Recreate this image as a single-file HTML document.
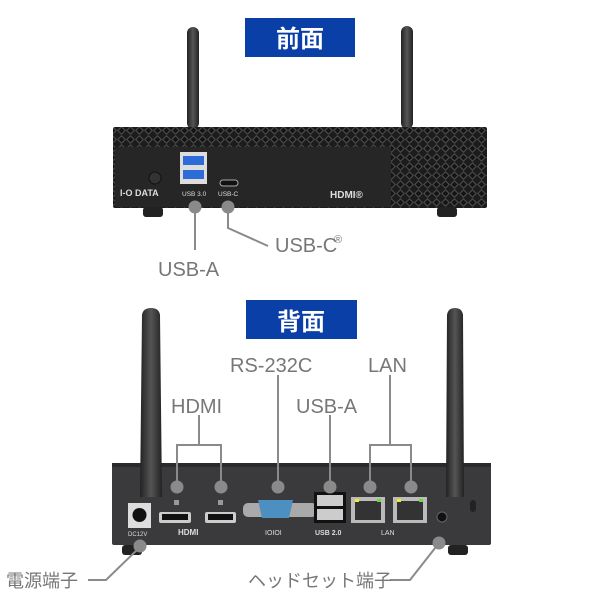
<!DOCTYPE html>
<html><head><meta charset="utf-8"><style>
html,body{margin:0;padding:0;background:#fff;}
svg{display:block;}
.t{font-family:"Liberation Sans","Noto Sans CJK JP",sans-serif;fill:#777;}
</style></head><body>
<svg width="600" height="600" viewBox="0 0 600 600" xmlns="http://www.w3.org/2000/svg">
<defs>
<pattern id="vent" width="9" height="9" patternUnits="userSpaceOnUse">
<rect width="9" height="9" fill="#1c1c1c"/>
<path d="M0 4.5 L4.5 0 L9 4.5 L4.5 9 Z" fill="#4a4a4a"/>
<path d="M1.6 4.5 L4.5 1.6 L7.4 4.5 L4.5 7.4 Z" fill="#141414"/>
</pattern>
<linearGradient id="ant" x1="0" x2="1"><stop offset="0" stop-color="#222"/><stop offset="0.5" stop-color="#555"/><stop offset="1" stop-color="#222"/></linearGradient>
</defs>

<!-- FRONT -->
<rect x="245" y="18" width="110" height="39" fill="#0a3fa8"/>
<text x="300" y="47" text-anchor="middle" font-family="Liberation Sans,Noto Sans CJK JP,sans-serif" font-size="24" font-weight="bold" fill="#fff">前面</text>
<rect x="187" y="27" width="12" height="102" rx="6" fill="url(#ant)"/>
<rect x="401" y="26" width="12" height="103" rx="6" fill="url(#ant)"/>
<rect x="113" y="127" width="374" height="81" rx="2" fill="url(#vent)"/>
<rect x="115" y="147" width="276" height="60" fill="#262626"/>
<rect x="143" y="207" width="20" height="10" rx="3" fill="#222"/>
<rect x="437" y="207" width="20" height="10" rx="3" fill="#222"/>
<circle cx="155" cy="178" r="6" fill="#333" stroke="#111"/>
<rect x="180" y="152" width="27" height="32" fill="#ddd"/>
<rect x="183" y="156" width="21" height="9" fill="#2d6bd8"/>
<rect x="183" y="170" width="21" height="9" fill="#2d6bd8"/>
<rect x="220" y="180" width="18" height="6" rx="3" fill="#111" stroke="#aaa"/>
<text x="120" y="196" font-family="Liberation Sans,sans-serif" font-size="9" font-weight="bold" fill="#ddd">I-O DATA</text>
<text x="182" y="196" font-family="Liberation Sans,sans-serif" font-size="6.5" fill="#ddd">USB 3.0</text>
<text x="218" y="196" font-family="Liberation Sans,sans-serif" font-size="6.5" fill="#ddd">USB-C</text>
<text x="330" y="198" font-family="Liberation Sans,sans-serif" font-size="10" font-weight="bold" fill="#ddd">HDMI®</text>
<g stroke="#8a8a8a" stroke-width="2" fill="none">
<path d="M195 207 V250"/>
<path d="M228 207 V228 L268 246"/>
</g>
<circle cx="195" cy="207" r="6.5" fill="#8a8a8a"/>
<circle cx="228" cy="207" r="6.5" fill="#8a8a8a"/>
<text class="t" x="158" y="276" font-size="20">USB-A</text>
<text class="t" x="275" y="252" font-size="20">USB-C</text>
<text class="t" x="334" y="243" font-size="11">®</text>

<!-- BACK -->
<rect x="246" y="300" width="111" height="39" fill="#0a3fa8"/>
<text x="301" y="330" text-anchor="middle" font-family="Liberation Sans,Noto Sans CJK JP,sans-serif" font-size="24" font-weight="bold" fill="#fff">背面</text>
<rect x="112" y="463" width="379" height="82" rx="2" fill="#3a3a3c"/>
<rect x="112" y="463" width="379" height="4" fill="#2a2a2a"/>
<path d="M142 315 Q143 308 151 308 Q159 308 160 315 L162 497 L140 497 Z" fill="url(#ant)"/>
<path d="M447 315 Q448 308 455 308 Q462 308 463 315 L464 497 L446 497 Z" fill="url(#ant)"/>
<rect x="122" y="545" width="20" height="10" rx="3" fill="#222"/>
<rect x="448" y="545" width="20" height="10" rx="3" fill="#222"/>
<!-- ports -->
<rect x="128" y="503" width="23" height="25" fill="#ddd"/><circle cx="139.5" cy="515" r="7" fill="#111"/>
<text x="128" y="536" font-family="Liberation Sans,sans-serif" font-size="6" fill="#ddd">DC12V</text>
<rect x="159" y="512" width="32" height="11" rx="2" fill="#ccc"/><rect x="162" y="514" width="26" height="6" fill="#111"/>
<rect x="205" y="512" width="31" height="11" rx="2" fill="#ccc"/><rect x="208" y="514" width="25" height="6" fill="#111"/>
<rect x="174" y="500" width="5" height="5" fill="#999"/><rect x="218" y="500" width="5" height="5" fill="#999"/>
<text x="178" y="535" font-family="Liberation Sans,sans-serif" font-size="8" font-weight="bold" fill="#ddd">HDMI</text>
<rect x="243" y="503" width="74" height="14" rx="5" fill="#aaa"/>
<path d="M258 500 H293 L289 518 H262 Z" fill="#4c8fc0"/>
<text x="265" y="535" font-family="Liberation Sans,sans-serif" font-size="7" fill="#ddd">IOIOI</text>
<rect x="314" y="492" width="32" height="31" fill="#111"/>
<rect x="317" y="495" width="26" height="11" fill="#ccc"/><rect x="317" y="509" width="26" height="11" fill="#ccc"/>
<text x="315" y="535" font-family="Liberation Sans,sans-serif" font-size="7" font-weight="bold" fill="#ddd">USB 2.0</text>
<rect x="351" y="497" width="34" height="26" fill="#bbb"/><rect x="355" y="501" width="26" height="19" fill="#333"/>
<rect x="393" y="497" width="34" height="26" fill="#bbb"/><rect x="397" y="501" width="26" height="19" fill="#333"/>
<rect x="355" y="499" width="4" height="3" fill="#ee2"/><rect x="377" y="499" width="4" height="3" fill="#6d3"/>
<rect x="397" y="499" width="4" height="3" fill="#ee2"/><rect x="419" y="499" width="4" height="3" fill="#6d3"/>
<text x="381" y="535" font-family="Liberation Sans,sans-serif" font-size="7" fill="#ddd">LAN</text>
<circle cx="442" cy="517" r="5" fill="#111" stroke="#666"/>
<rect x="470" y="500" width="6" height="12" rx="3" fill="#222"/>
<!-- connectors -->
<g stroke="#8a8a8a" stroke-width="2" fill="none">
<path d="M199 415 V445 M177 485 V445 H221 V485"/>
<path d="M278 375 V485"/>
<path d="M330 415 V485"/>
<path d="M390 375 V445 M370 485 V445 H411 V485"/>
<path d="M88 580 H106 L140 547"/>
<path d="M390 580 H410 L439 543"/>
</g>
<g fill="#8a8a8a">
<circle cx="177" cy="487" r="6.5"/><circle cx="221" cy="487" r="6.5"/>
<circle cx="278" cy="487" r="6.5"/><circle cx="330" cy="487" r="6.5"/>
<circle cx="370" cy="487" r="6.5"/><circle cx="411" cy="487" r="6.5"/>
<circle cx="140" cy="546" r="6.5"/><circle cx="439" cy="543" r="6.5"/>
</g>
<text class="t" x="230" y="372" font-size="20">RS-232C</text>
<text class="t" x="368" y="372" font-size="20">LAN</text>
<text class="t" x="171" y="413" font-size="20">HDMI</text>
<text class="t" x="296" y="413" font-size="20">USB-A</text>
<text class="t" x="6" y="587" font-size="18">電源端子</text>
<text class="t" x="248" y="587" font-size="18">ヘッドセット端子</text>
</svg>
</body></html>
